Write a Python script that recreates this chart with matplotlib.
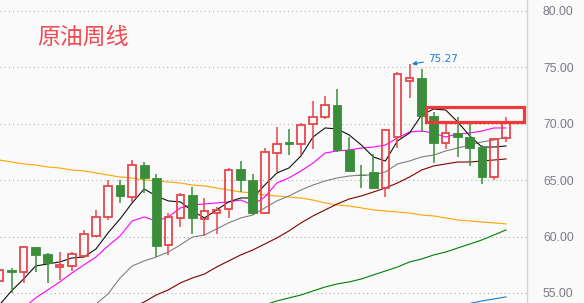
import matplotlib
matplotlib.use("Agg")
import matplotlib.pyplot as plt
from matplotlib.patches import Rectangle
import numpy as np

# --- weekly crude oil candles ---
opens = [56.06, 57.04, 56.86, 59.08, 58.46, 57.30, 57.39, 58.28, 60.05, 61.74,
         64.57, 63.51, 66.35, 65.20, 59.26, 61.65, 63.69, 61.56, 62.09, 62.45,
         65.99, 65.02, 62.09, 67.41, 68.39, 68.21, 69.98, 70.60, 71.67, 67.68,
         65.50, 65.73, 64.31, 68.83, 73.79, 74.06, 70.69, 68.30, 69.18, 68.83,
         67.94, 65.28, 68.74]
highs = [57.30, 57.22, 59.17, 59.10, 58.50, 58.63, 58.63, 60.59, 62.36, 65.02,
         65.02, 66.79, 66.61, 65.55, 62.09, 63.87, 64.40, 63.42, 62.62, 66.08,
         66.70, 65.55, 67.85, 69.72, 69.54, 70.07, 72.02, 72.46, 73.09, 68.83,
         66.35, 67.32, 69.54, 74.59, 75.27, 74.86, 71.05, 70.07, 70.60, 70.07,
         68.12, 68.70, 70.60]
lows = [55.90, 55.00, 55.89, 56.86, 55.89, 56.15, 56.95, 58.10, 60.00, 61.47,
        62.98, 63.10, 63.87, 58.19, 58.37, 60.85, 60.23, 60.05, 60.23, 61.65,
        63.95, 61.91, 62.00, 65.73, 67.23, 67.23, 67.77, 70.43, 67.50, 65.73,
        64.31, 64.20, 63.51, 67.85, 72.29, 69.27, 66.52, 67.77, 67.06, 66.26,
        64.66, 65.02, 68.39]
closes = [57.04, 56.86, 59.08, 58.37, 57.66, 57.48, 58.46, 60.23, 61.74, 64.49,
          63.60, 66.35, 65.20, 59.17, 61.74, 63.69, 61.65, 62.27, 62.36, 65.90,
          65.02, 62.09, 67.50, 68.21, 68.21, 69.89, 70.60, 71.67, 67.68, 65.82,
          65.42, 64.31, 69.45, 74.41, 74.06, 70.69, 68.30, 69.18, 68.83, 67.85,
          65.28, 68.65, 70.07]

# --- moving average lines (None = not drawn) ---
ma5 = [53.94, 55.18, 56.24, 57.39, 57.57, 57.75, 58.10, 58.19, 58.90, 60.32,
       61.56, 62.98, 64.22, 63.60, 63.16, 63.07, 62.27, 61.65, 62.36, 63.07,
       63.42, 63.42, 64.57, 65.64, 66.08, 67.15, 68.83, 69.63, 69.54, 69.01,
       68.12, 67.06, 66.70, 68.48, 69.18, 70.78, 71.31, 71.22, 70.16, 68.92,
       67.94, 67.94, 68.03]
ma10 = [51.72, 52.70, 53.67, 54.56, 55.27, 55.98, 56.77, 57.48, 58.19, 59.17,
        60.05, 61.38, 61.74, 61.38, 61.74, 62.54, 62.80, 62.89, 62.98, 63.07,
        63.24, 62.80, 63.51, 64.75, 65.20, 65.82, 66.52, 67.41, 67.59, 67.68,
        67.85, 67.94, 68.12, 68.74, 69.27, 69.36, 69.18, 68.83, 69.10, 69.18,
        69.36, 69.63, 69.63]
ma20 = [None] * 7 + [
    53.14, 54.02, 54.91, 56.33, 57.39, 57.84, 58.19, 58.63, 59.26, 59.96,
    60.14, 60.67, 61.21, 61.65, 61.91, 62.54, 63.16, 63.60, 64.13, 64.57,
    64.93, 65.20, 65.37, 65.46, 65.46, 65.73, 66.44, 66.70, 67.06, 67.23,
    67.59, 67.85, 68.12, 68.39, 68.56, 68.83]
ma_darkred = [None] * 11 + [
    53.67, 54.20, 54.82, 55.27, 55.89, 56.33, 56.68, 57.30, 57.84, 58.37,
    58.81, 59.34, 59.88, 60.50, 61.21, 61.83, 62.36, 62.89, 63.33, 63.60,
    63.95, 64.31, 64.75, 65.28, 65.90, 66.26, 66.44, 66.61, 66.61, 66.70,
    66.79, 66.88]
ma_orange = [66.79, 66.61, 66.44, 66.35, 66.17, 66.08, 65.90, 65.82, 65.64, 65.46,
             65.28, 65.20, 65.02, 64.93, 64.84, 64.75, 64.57, 64.49, 64.31, 64.13,
             63.95, 63.87, 63.69, 63.60, 63.51, 63.42, 63.24, 62.98, 62.80, 62.71,
             62.54, 62.36, 62.27, 62.18, 62.09, 61.91, 61.83, 61.65, 61.47, 61.38,
             61.29, 61.21, 61.12]
ma_green = [None] * 22 + [
    53.94, 54.29, 54.56, 54.82, 55.18, 55.53, 55.80, 55.98, 56.24, 56.60,
    56.95, 57.30, 57.75, 58.01, 58.37, 58.63, 58.99, 59.34, 59.70, 60.14,
    60.59]
ma_blue = [None] * 38 + [53.85, 54.07, 54.29, 54.47, 54.65]

y_ticks = [55, 60, 65, 70, 75, 80]
title = "原油周线"
high_label = "75.27"

UP = "#e8454a"
DOWN = "#3a8e3a"
BG = "#fafafa"


def as_arr(vals):
    return np.array([np.nan if v is None else v for v in vals], dtype=float)


def draw_candles(ax, x, o, h, l, c):
    for xi, oi, hi, li, ci in zip(x, o, h, l, c):
        top, bot = max(oi, ci), min(oi, ci)
        if ci >= oi:
            # hollow red candle, wick stops at the body
            ax.vlines(xi, top, hi, color=UP, lw=1.1, zorder=3)
            ax.vlines(xi, li, bot, color=UP, lw=1.1, zorder=3)
            ax.add_patch(Rectangle((xi - 0.31, bot), 0.62, max(top - bot, 0.02),
                                   facecolor="none", edgecolor=UP, lw=1.3, zorder=4))
        else:
            ax.vlines(xi, li, hi, color=DOWN, lw=1.1, zorder=3)
            ax.add_patch(Rectangle((xi - 0.36, bot), 0.72, max(top - bot, 0.02),
                                   facecolor=DOWN, edgecolor=DOWN, lw=0.6, zorder=4))


def main():
    x = np.arange(len(closes))

    fig = plt.figure(figsize=(5.84, 3.03), dpi=100, facecolor=BG)
    ax = fig.add_axes([0, 0, 527 / 584, 1])
    ax.set_facecolor(BG)

    lines = [
        (ma_orange, "#ffa500"),
        (ma_green, "#008000"),
        (ma_blue, "#1a7fd4"),
        (ma_darkred, "#800000"),
        (ma20, "#808080"),
        (ma10, "#ff00ff"),
        (ma5, "#111111"),
    ]
    for vals, col in lines:
        ax.plot(x, as_arr(vals), color=col, lw=0.8, zorder=2)

    draw_candles(ax, x, opens, highs, lows, closes)

    # highlighted zone
    ax.add_patch(Rectangle((35.4, 70.2), 8.1, 1.25, fill=False,
                           edgecolor="#f03a3a", lw=2.3, zorder=6))

    ax.annotate(high_label, xy=(34.2, 75.3), xytext=(35.5, 75.74),
                color="#1a7fd4", fontsize=7.5, va="center", ha="left",
                arrowprops=dict(arrowstyle="-|>", color="#1a7fd4", lw=0.8,
                                shrinkA=1, shrinkB=0, mutation_scale=6),
                zorder=6)

    ax.set_xlim(0.046, 43.74)
    ax.set_ylim(54.11, 80.975)
    ax.set_xticks([])
    ax.set_yticks(y_ticks)
    ax.set_yticklabels([f"{v:.2f}" for v in y_ticks], family="Liberation Sans")
    ax.yaxis.tick_right()
    ax.tick_params(axis="y", length=0, pad=11.5, labelsize=8.7, labelcolor="#7a7a88")
    ax.yaxis.grid(True, linestyle=(0, (1, 3)), color="#a8a8a8", lw=0.75)
    ax.set_axisbelow(True)

    for side in ["left", "top", "bottom"]:
        ax.spines[side].set_visible(False)
    ax.spines["right"].set_color("#d4d4d4")
    ax.spines["right"].set_linewidth(1.0)

    fig.text(0.063, 0.878, title, color="#f04a55", fontsize=16.5,
             family=["Noto Sans CJK SC", "DejaVu Sans"], fontweight="light",
             va="center", ha="left")

    fig.savefig("out.png", dpi=100, facecolor=BG)


if __name__ == "__main__":
    main()
